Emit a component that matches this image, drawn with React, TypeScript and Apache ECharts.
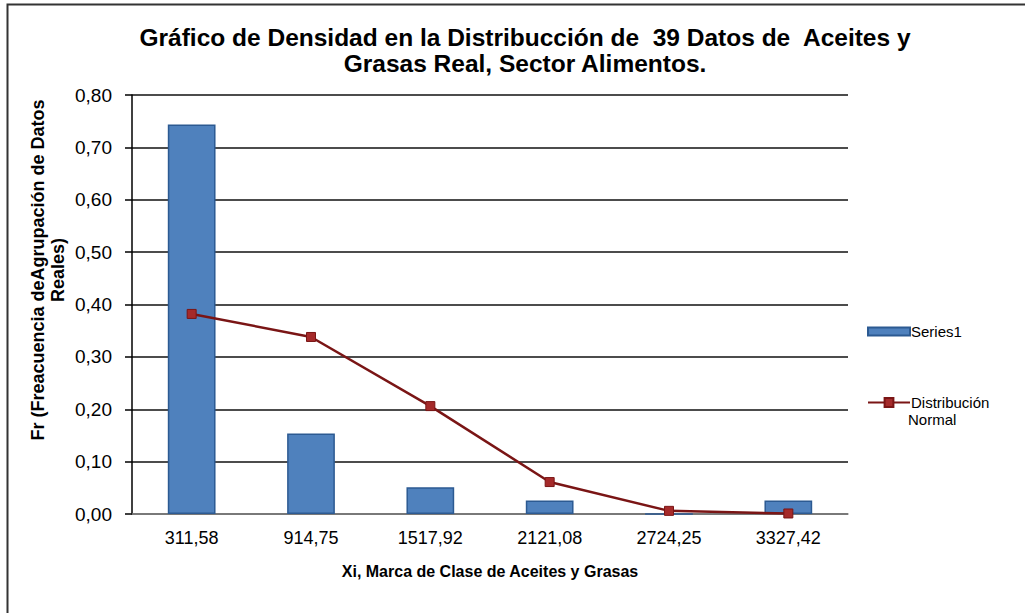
import React, { useEffect, useRef } from "react";
import * as echarts from "echarts";

const categories = ["311,58", "914,75", "1517,92", "2121,08", "2724,25", "3327,42"];
const series1Values = [0.7436, 0.1538, 0.0513, 0.0256, 0, 0.0256];
const normalValues = [0.382, 0.338, 0.206, 0.061, 0.006, 0.001];
const yTicks = { min: 0, max: 0.8, interval: 0.1 };

const titleText = "Gráfico de Densidad en la Distribucción de  39 Datos de  Aceites y\nGrasas Real, Sector Alimentos.";
const xName = "Xi, Marca de Clase de Aceites y Grasas";
const yNameLines = ["Fr (Freacuencia deAgrupación de Datos", "Reales)"];

export default function App() {
  const ref = useRef<HTMLDivElement>(null);
  useEffect(() => {
    document.body.style.margin = "0";
    const chart = echarts.init(ref.current!, null, { renderer: "svg" });
    const font = "'Liberation Sans', Arial, sans-serif";
    chart.setOption({
      animation: false,
      backgroundColor: "#fff",
      textStyle: { fontFamily: font },
      title: {
        text: titleText,
        left: 520,
        textAlign: "center",
        top: 19,
        textStyle: { fontSize: 24.5, fontWeight: "bold", color: "#000", lineHeight: 26, fontFamily: font },
      },
      grid: { left: 132, right: 177, top: 95, bottom: 99, containLabel: false },
      legend: [
        {
          data: ["Series1"],
          left: 862,
          top: 319,
          orient: "vertical",
          itemWidth: 42,
          itemHeight: 8,
          itemGap: 0,
          textStyle: { fontSize: 15, color: "#000", fontFamily: font, padding: [0, 0, 0, -4] },
          icon: "rect",
        },
        {
          data: ["Distribución Normal"],
          left: 862,
          top: 390,
          orient: "vertical",
          itemWidth: 42,
          itemHeight: 11,
          textStyle: { fontSize: 15, color: "#000", fontFamily: font, padding: [0, 0, 0, -4] },
          formatter: (n: string) => (n === "Distribución Normal" ? "Distribución" : n),
        },
      ],
      xAxis: {
        type: "category",
        data: categories,
        name: xName,
        nameLocation: "middle",
        nameGap: 49,
        nameTextStyle: { fontSize: 16, fontWeight: "bold", color: "#000", fontFamily: font },
        axisLine: { lineStyle: { color: "#888", width: 1.5 } },
        axisTick: { show: false },
        axisLabel: { fontSize: 18, color: "#000", margin: 15, fontFamily: font },
      },
      yAxis: {
        type: "value",
        min: yTicks.min,
        max: yTicks.max,
        interval: yTicks.interval,
        axisLine: { show: true, lineStyle: { color: "#000", width: 1.5 } },
        axisTick: { show: true, length: 7, lineStyle: { color: "#000", width: 1.5 } },
        axisLabel: {
          fontSize: 19,
          color: "#000",
          margin: 20,
          fontFamily: font,
          formatter: (v: number) => v.toFixed(2).replace(".", ","),
        },
        splitLine: { lineStyle: { color: "#111", width: 1.5 } },
      },
      series: [
        {
          name: "Series1",
          type: "bar",
          data: series1Values,
          barWidth: "40%",
          itemStyle: { color: "#4F81BD", borderColor: "#2C5A92", borderWidth: 1.5 },
          z: 2,
        },
        {
          name: "Distribución Normal",
          type: "line",
          data: normalValues,
          symbol: "rect",
          symbolSize: 9,
          lineStyle: { color: "#7A1515", width: 2.5 },
          itemStyle: { color: "#A52A2A", borderColor: "#7A1515", borderWidth: 1 },
          z: 3,
        },
      ],
      graphic: [
        {
          type: "rect",
          shape: { x: 7.5, y: 4.5, width: 1200, height: 800 },
          style: { fill: "none", stroke: "#333", lineWidth: 2 },
          silent: true,
        },
        {
          type: "text",
          x: 38,
          y: 270,
          rotation: Math.PI / 2,
          style: {
            text: yNameLines[0],
            font: `bold 18px ${font}`,
            fill: "#000",
            align: "center",
            verticalAlign: "middle",
          },
        },
        {
          type: "text",
          x: 58,
          y: 270,
          rotation: Math.PI / 2,
          style: {
            text: yNameLines[1],
            font: `bold 18px ${font}`,
            fill: "#000",
            align: "center",
            verticalAlign: "middle",
          },
        },
        {
          type: "text",
          x: 908,
          y: 412,
          style: { text: "Normal", font: `15px ${font}`, fill: "#000" },
        },
      ],
    });
    return () => chart.dispose();
  }, []);
  return <div ref={ref} style={{ width: 1025, height: 613 }} />;
}
